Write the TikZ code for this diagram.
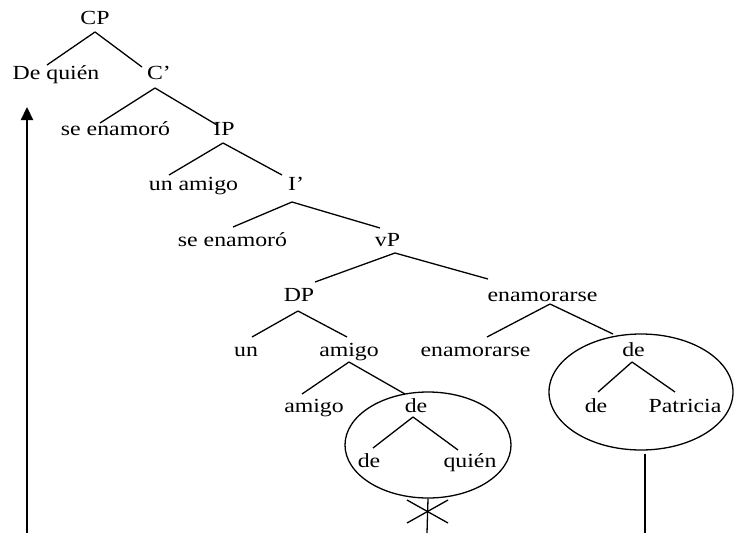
\documentclass[tikz,border=0pt]{standalone}
\usepackage{fontspec}
\setmainfont{Liberation Serif}[FakeStretch=1.19]
\usetikzlibrary{calc,arrows.meta,shapes.geometric}

\begin{document}
\begin{tikzpicture}[x=1pt,y=-1pt,
  lbl/.style={anchor=base,inner sep=0pt,font=\fontsize{20}{23}\selectfont},
  branch/.style={line width=1.3pt},
  bubble/.style={draw,ellipse,line width=1.3pt,inner sep=0pt}]
\useasboundingbox (0,0) rectangle (735,533);

% labels of the tree
\node[lbl] (cp)    at (95,24)    {CP};
\node[lbl] (dq)    at (56,79)    {De quién};
\node[lbl] (cbar)  at (159,79)   {C’};
\node[lbl] (se1)   at (115.5,135){se enamoró};
\node[lbl] (ip)    at (224,135)  {IP};
\node[lbl] (una)   at (193.5,190){un amigo};
\node[lbl] (ibar)  at (296,190)  {I’};
\node[lbl] (se2)   at (232.5,246){se enamoró};
\node[lbl] (vp)    at (387.5,246){vP};
\node[lbl] (dp)    at (299,301)  {DP};
\node[lbl] (en1)   at (542.5,301){enamorarse};
\node[lbl] (un)    at (246,356)  {un};
\node[lbl] (am1)   at (349,356)  {amigo};
\node[lbl] (en2)   at (475.5,356){enamorarse};
\node[lbl] (deR)   at (633.5,356){de};
\node[lbl] (am2)   at (314,412)  {amigo};
\node[lbl] (deL)   at (416,412)  {de};
\node[lbl] (deR2)  at (596,412)  {de};
\node[lbl] (pat)   at (685,412)  {Patricia};
\node[lbl] (deL2)  at (369,467)  {de};
\node[lbl] (quien) at (470,467)  {quién};

% circled constituents
\node[bubble,minimum width=166pt,minimum height=106pt] (ellL) at (428,445) {};
\node[bubble,minimum width=184pt,minimum height=116pt] (ellR) at (641,392) {};

% branches
\draw[branch] ($(cp.base)+(0,8)$)      -- ($(dq.base)+(-9,-14)$);
\draw[branch] ($(cp.base)+(0,8)$)      -- ($(cbar.base)+(-17,-12)$);
\draw[branch] ($(cbar.base)+(-4,9)$)   -- ($(se1.base)+(-15.5,-12)$);
\draw[branch] ($(cbar.base)+(-4,9)$)   -- ($(ip.base)+(-7,-10)$);
\draw[branch] ($(ip.base)+(-1,8)$)     -- ($(una.base)+(-24.5,-15)$);
\draw[branch] ($(ip.base)+(-1,8)$)     -- ($(ibar.base)+(-14,-15)$);
\draw[branch] ($(ibar.base)+(-4,12)$)  -- ($(se2.base)+(0.5,-19)$);
\draw[branch] ($(ibar.base)+(-4,12)$)  -- ($(vp.base)+(-7.5,-18)$);
\draw[branch] ($(vp.base)+(7.5,7)$)    -- ($(dp.base)+(16,-19)$);
\draw[branch] ($(vp.base)+(7.5,7)$)    -- ($(en1.base)+(-54.5,-22)$);
\draw[branch] ($(dp.base)+(-1,10)$)    -- ($(un.base)+(6,-19)$);
\draw[branch] ($(dp.base)+(-1,10)$)    -- ($(am1.base)+(-2,-19)$);
\draw[branch] ($(en1.base)+(7.5,3)$)   -- ($(en2.base)+(11.5,-19)$);
\draw[branch] ($(en1.base)+(7.5,3)$)   -- ($(deR.base)+(-20.5,-22)$);
\draw[branch] ($(am1.base)+(0,6)$)     -- ($(am2.base)+(-12,-18)$);
\draw[branch] ($(am1.base)+(0,6)$)     -- ($(deL.base)+(-11,-18)$);
\draw[branch] ($(deR.base)+(-1.5,6)$)  -- ($(deR2.base)+(2,-20)$);
\draw[branch] ($(deR.base)+(-1.5,6)$)  -- ($(pat.base)+(-10,-20)$);
\draw[branch] ($(deL.base)+(-3,5)$)    -- ($(deL2.base)+(4,-19)$);
\draw[branch] ($(deL.base)+(-3,5)$)    -- ($(quien.base)+(-12,-17)$);

% blocked path below the left bubble
\coordinate (star) at (427,512);
\coordinate (starfoot) at (427,533);
\draw[branch] (ellL.south) -- (starfoot);
\draw[branch] ($(star)+(-20,-12)$) -- ($(star)+(21,11)$);
\draw[branch] ($(star)+(-20,11)$) -- ($(star)+(21,-12)$);

% path below the right bubble
\coordinate (rfoot) at (645,533);
\draw[branch] ($(ellR.south)+(4,3)$) -- (rfoot);

% movement arrow
\coordinate (afoot) at (27,533);
\draw[line width=2.2pt,-{Triangle[length=13pt,width=12pt]}] (afoot) -- ($(dq.base)+(-29,28)$);
\end{tikzpicture}
\end{document}
